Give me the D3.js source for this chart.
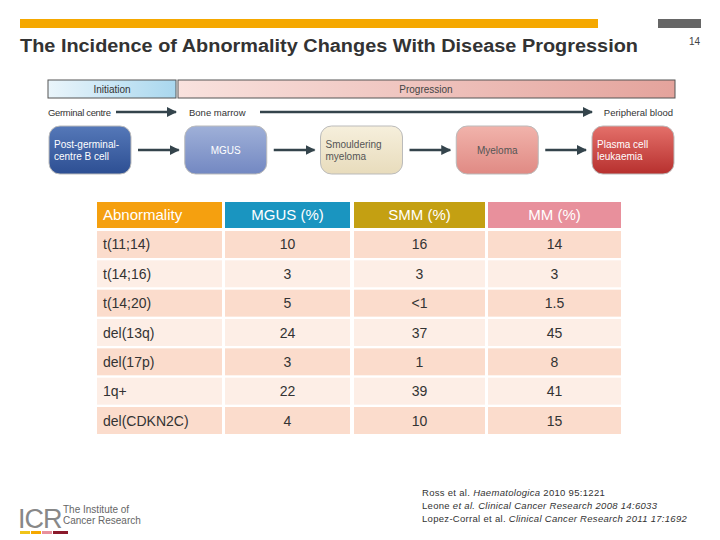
<!DOCTYPE html>
<html><head><meta charset="utf-8">
<script src="https://cdn.jsdelivr.net/npm/d3@7"></script>
<style>body{margin:0;background:#fff}svg{font-family:"Liberation Sans",Arial,sans-serif}</style>
</head><body><div id="c"></div>
<script>
var headers = ["Abnormality", "MGUS (%)", "SMM (%)", "MM (%)"];
var headerColors = ["#f5a00f", "#1a95c0", "#c4a012", "#e8909c"];
var abnormalities = ["t(11;14)", "t(14;16)", "t(14;20)", "del(13q)", "del(17p)", "1q+", "del(CDKN2C)"];
var mgus = ["10", "3", "5", "24", "3", "22", "4"];
var smm = ["16", "3", "<1", "37", "1", "39", "10"];
var mm = ["14", "3", "1.5", "45", "8", "41", "15"];
var stages = ["Post-germinal-\ncentre B cell", "MGUS", "Smouldering\nmyeloma", "Myeloma", "Plasma cell\nleukaemia"];
var stageColors = [["#5578b8", "#2d4f93"], ["#9fb0d8", "#7388c2"], ["#f6efdc", "#e8dcbc"], ["#f1b3ab", "#e08a84"], ["#e4706a", "#b7302e"]];
var refs = [
  ["Ross et al. ", "Haematologica", " 2010 95:1221"],
  ["Leone ", "et al. Clinical Cancer Research 2008 14:6033", ""],
  ["Lopez-Corral et al.  ", "Clinical Cancer Research 2011 17:1692", ""]
];

var svg = d3.select("#c").append("svg").attr("width", 720).attr("height", 540);
var defs = svg.append("defs");

// top bars + title
svg.append("rect").attr("x", 20).attr("y", 19).attr("width", 578).attr("height", 9).attr("fill", "#f5a800");
svg.append("rect").attr("x", 658).attr("y", 19).attr("width", 43).attr("height", 9).attr("fill", "#666");
svg.append("text").attr("x", 20).attr("y", 52).attr("font-size", 18).attr("font-weight", "bold").attr("fill", "#333")
  .attr("textLength", 618).attr("lengthAdjust", "spacingAndGlyphs")
  .text("The Incidence of Abnormality Changes With Disease Progression");
svg.append("text").attr("x", 700).attr("y", 45).attr("text-anchor", "end").attr("font-size", 10).attr("fill", "#444").text("14");

// diagram
function grad(id, c0, c1, horiz) {
  var g = defs.append("linearGradient").attr("id", id);
  if (!horiz) g.attr("x1", 0).attr("y1", 0).attr("x2", 0).attr("y2", 1);
  g.append("stop").attr("offset", 0).attr("stop-color", c0);
  g.append("stop").attr("offset", 1).attr("stop-color", c1);
}
grad("gi", "#eaf5fb", "#a9d7ee", true);
grad("gp", "#f9e2de", "#e4a39c", true);
svg.append("rect").attr("x", 48).attr("y", 80).attr("width", 128).attr("height", 18).attr("fill", "url(#gi)").attr("stroke", "#555");
svg.append("rect").attr("x", 178).attr("y", 80).attr("width", 497).attr("height", 18).attr("fill", "url(#gp)").attr("stroke", "#555");
svg.append("text").attr("x", 112).attr("y", 93).attr("text-anchor", "middle").attr("font-size", 10).attr("fill", "#333").text("Initiation");
svg.append("text").attr("x", 426).attr("y", 93).attr("text-anchor", "middle").attr("font-size", 10).attr("fill", "#444").text("Progression");

defs.append("marker").attr("id", "ah").attr("viewBox", "0 0 10 10").attr("refX", 9).attr("refY", 5)
  .attr("markerWidth", 4).attr("markerHeight", 4).attr("orient", "auto")
  .append("path").attr("d", "M0,0L10,5L0,10z").attr("fill", "#34444c");
function arrow(x1, x2, y) {
  svg.append("line").attr("x1", x1).attr("x2", x2).attr("y1", y).attr("y2", y)
    .attr("stroke", "#34444c").attr("stroke-width", 2.5).attr("marker-end", "url(#ah)");
}
svg.append("text").attr("x", 48).attr("y", 116).attr("font-size", 9.5).attr("fill", "#333").attr("textLength", 63).text("Germinal centre");
svg.append("text").attr("x", 189).attr("y", 116).attr("font-size", 9.5).attr("fill", "#333").text("Bone marrow");
svg.append("text").attr("x", 673).attr("y", 116).attr("text-anchor", "end").attr("font-size", 9.5).attr("fill", "#333").text("Peripheral blood");
arrow(116, 176, 112);
arrow(260, 592, 112);

var bx = d3.scalePoint().domain(d3.range(stages.length)).range([90, 633]);
stages.forEach(function(s, i) {
  grad("gs" + i, stageColors[i][0], stageColors[i][1], false);
  var cx = bx(i);
  svg.append("rect").attr("x", cx - 41).attr("y", 126).attr("width", 82).attr("height", 48).attr("rx", 11)
    .attr("fill", "url(#gs" + i + ")").attr("stroke", "#bbb");
  var lines = s.split("\n");
  var t = svg.append("text").attr("font-size", 10).attr("fill", i === 2 || i === 3 ? "#555" : "#fff");
  lines.forEach(function(l, k) {
    t.append("tspan").attr("x", cx - (lines.length > 1 ? 36 : 0)).attr("text-anchor", lines.length > 1 ? "start" : "middle")
      .attr("y", 154 + (k - (lines.length - 1) / 2) * 12).text(l);
  });
  if (i > 0) arrow(bx(i - 1) + 48, cx - 47, 150);
});

// table
var colX = [97, 225, 354, 488], colW = [125, 125, 131, 133];
var y = d3.scaleBand().domain(d3.range(abnormalities.length)).range([231, 434]).paddingInner(0.08);
headers.forEach(function(h, j) {
  svg.append("rect").attr("x", colX[j]).attr("y", 202).attr("width", colW[j]).attr("height", 26).attr("fill", headerColors[j]);
  svg.append("text").attr("x", j === 0 ? colX[j] + 6 : colX[j] + colW[j] / 2).attr("y", 220)
    .attr("text-anchor", j === 0 ? "start" : "middle").attr("font-size", 15).attr("fill", "#fff").text(h);
});
var cols = [abnormalities, mgus, smm, mm];
abnormalities.forEach(function(a, i) {
  cols.forEach(function(col, j) {
    svg.append("rect").attr("x", colX[j]).attr("y", y(i)).attr("width", colW[j]).attr("height", y.bandwidth())
      .attr("fill", i % 2 ? "#fdeee6" : "#fbdccc");
    svg.append("text").attr("x", j === 0 ? colX[j] + 6 : colX[j] + colW[j] / 2).attr("y", y(i) + y.bandwidth() / 2 + 5)
      .attr("text-anchor", j === 0 ? "start" : "middle").attr("font-size", 14).attr("fill", "#333").text(col[i]);
  });
});

// references
refs.forEach(function(r, i) {
  var t = svg.append("text").attr("x", 422).attr("y", 496 + i * 13).attr("font-size", 9.5).attr("letter-spacing", 0.3).attr("fill", "#333");
  t.append("tspan").text(r[0]);
  t.append("tspan").attr("font-style", "italic").text(r[1]);
  t.append("tspan").text(r[2]);
});

// logo
svg.append("text").attr("x", 18).attr("y", 528).attr("font-size", 27).attr("fill", "#888").attr("letter-spacing", -1).text("ICR");
svg.append("text").attr("x", 63).attr("y", 513).attr("font-size", 10).attr("fill", "#666").text("The Institute of");
svg.append("text").attr("x", 63).attr("y", 524).attr("font-size", 10).attr("fill", "#666").text("Cancer Research");
["#f0c419", "#f5a800", "#e8909c", "#8b1a2b"].forEach(function(c, i) {
  svg.append("rect").attr("x", 20 + i * 11).attr("y", 531).attr("width", i === 3 ? 15 : 10).attr("height", 3).attr("fill", c);
});
</script></body></html>
